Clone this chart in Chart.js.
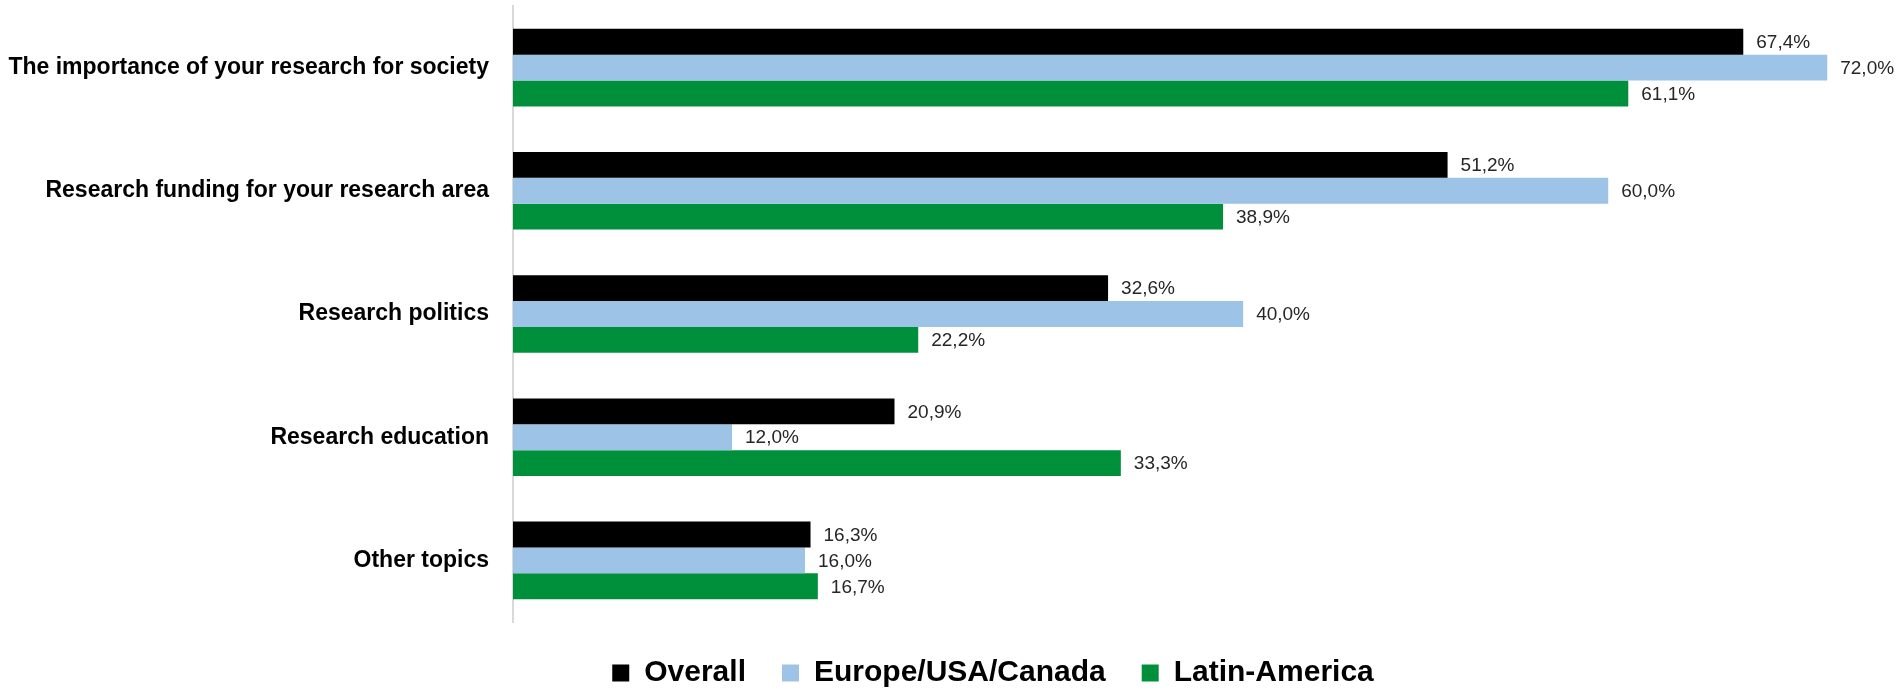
<!DOCTYPE html>
<html>
<head>
<meta charset="utf-8">
<script src="https://cdn.jsdelivr.net/npm/chart.js@4.4.1/dist/chart.umd.min.js"></script>
<style>
  html, body { margin: 0; padding: 0; background: #fff; }
  #wrap { width: 1902px; height: 694px; position: relative; }
</style>
</head>
<body>
<div id="wrap"><canvas id="chart"></canvas></div>
<script>
const categories = [
  'The importance of your research for society',
  'Research funding for your research area',
  'Research politics',
  'Research education',
  'Other topics'
];
const overall = [67.4, 51.2, 32.6, 20.9, 16.3];
const europe = [72.0, 60.0, 40.0, 12.0, 16.0];
const latin = [61.1, 38.9, 22.2, 33.3, 16.7];
const seriesNames = ['Overall', 'Europe/USA/Canada', 'Latin-America'];

// values at the end of each bar, with decimal comma
const barLabels = {
  id: 'barLabels',
  afterDatasetsDraw(chart) {
    const ctx = chart.ctx;
    ctx.save();
    ctx.font = '19px "Liberation Sans", Arial, sans-serif';
    ctx.fillStyle = '#262626';
    ctx.textAlign = 'left';
    ctx.textBaseline = 'middle';
    chart.data.datasets.forEach((ds, i) => {
      chart.getDatasetMeta(i).data.forEach((bar, j) => {
        const txt = ds.data[j].toFixed(1).replace('.', ',') + '%';
        ctx.fillText(txt, bar.x + 13, bar.y + 1);
      });
    });
    ctx.restore();
  }
};

// legend in the original sits a bit right of the canvas centre
const shiftLegend = {
  id: 'shiftLegend',
  afterLayout(chart) {
    if (chart.legend) {
      chart.legend.left += 104;
    }
  }
};

const ctx = document.getElementById('chart');
new Chart(ctx, {
  type: 'bar',
  data: {
    labels: categories,
    datasets: [
      { label: seriesNames[0], data: overall, backgroundColor: '#000000' },
      { label: seriesNames[1], data: europe, backgroundColor: '#9DC3E6' },
      { label: seriesNames[2], data: latin, backgroundColor: '#00903C' }
    ]
  },
  options: {
    indexAxis: 'y',
    responsive: true,
    maintainAspectRatio: false,
    animation: false,
    devicePixelRatio: 1,
    layout: { padding: { top: 6, right: 20, left: 0, bottom: 0 } },
    datasets: { bar: { categoryPercentage: 0.63, barPercentage: 1.0 } },
    scales: {
      x: {
        display: false,
        min: 0,
        max: 75
      },
      y: {
        grid: { display: false },
        border: { display: true, color: '#d9d9d9', width: 2 },
        ticks: {
          color: '#000',
          padding: 16,
          font: { family: '"Liberation Sans", Arial, sans-serif', size: 23, weight: 'bold' }
        },
        afterFit: (s) => {
          s.width = 513;
          s.paddingTop = 0;
          s.paddingBottom = 0;
        }
      }
    },
    plugins: {
      tooltip: { enabled: false },
      legend: {
        position: 'bottom',
        maxHeight: 72,
        labels: {
          color: '#000',
          boxWidth: 17,
          boxHeight: 17,
          padding: 36,
          font: { family: '"Liberation Sans", Arial, sans-serif', size: 30, weight: 'bold' }
        }
      }
    }
  },
  plugins: [barLabels, shiftLegend]
});
</script>
</body>
</html>
